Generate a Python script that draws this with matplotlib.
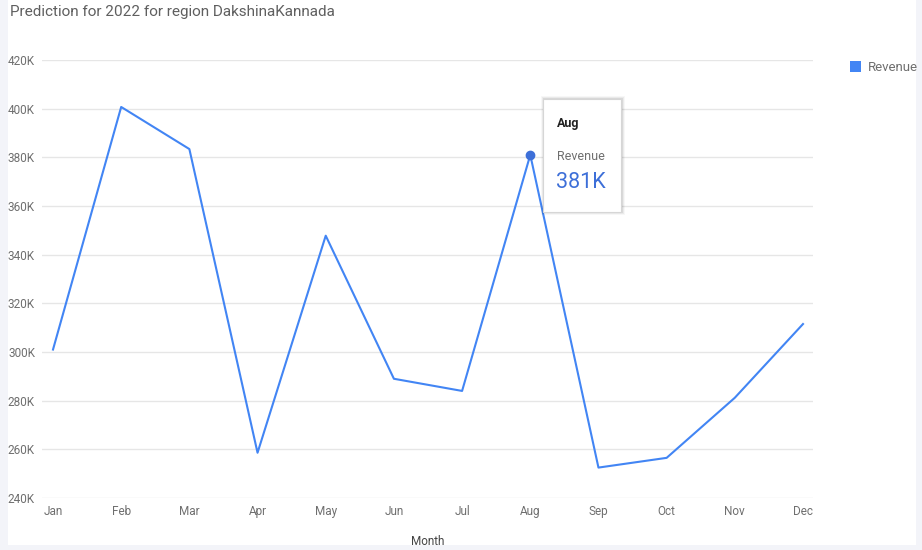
import matplotlib.pyplot as plt
from matplotlib.patches import Rectangle
from matplotlib.ticker import FuncFormatter

plt.rcParams['font.family'] = ['Roboto', 'DejaVu Sans']

months = ["Jan", "Feb", "Mar", "Apr", "May", "Jun",
          "Jul", "Aug", "Sep", "Oct", "Nov", "Dec"]
revenue = [301000, 400700, 383400, 258600, 347800, 289000,
           284000, 381000, 252500, 256500, 281200, 311500]
yticks = [240000, 260000, 280000, 300000, 320000, 340000,
          360000, 380000, 400000, 420000]
hover_month = "Aug"

line_color = "#4285f4"
text_color = "#6f6f6f"

fig = plt.figure(figsize=(9.22, 5.50), dpi=100, facecolor="#f3f4f9")
# white card behind everything
fig.patches.append(Rectangle((8 / 922, 5 / 550), 908 / 922, 545 / 550,
                             transform=fig.transFigure, facecolor="white",
                             edgecolor="none", zorder=-10))

ax = fig.add_axes([42 / 922, 1 - 498 / 550, 771 / 922, 438 / 550])
ax.set_facecolor("none")
x = list(range(len(months)))
ax.plot(x, revenue, color=line_color, linewidth=1.5, zorder=3)

hi = months.index(hover_month)
ax.plot(x[hi], revenue[hi], "o", color="#3d6fd8", markersize=6, zorder=4)

ax.set_xlim(-11 / 68.18, 11 + 10 / 68.18)
ax.set_ylim(240000, 420000)
ax.set_yticks(yticks)
ax.yaxis.set_major_formatter(FuncFormatter(lambda v, p: f"{int(v / 1000)}K"))
ax.set_xticks(x)
ax.set_xticklabels(months)
ax.tick_params(axis="both", length=0, labelsize=8.5, colors=text_color)
ax.tick_params(axis="y", pad=5)
ax.tick_params(axis="x", pad=5)
ax.grid(axis="y", color="#e6e6e6", linewidth=1)
ax.set_axisbelow(True)
for s in ax.spines.values():
    s.set_visible(False)
ax.set_xlabel("Month", fontsize=8.5, color="#444444", labelpad=12)

fig.text(10 / 922, 1 - 12 / 550, "Prediction for 2022 for region DakshinaKannada",
         fontsize=11, color="#5f5f5f", va="center", ha="left")

# legend
fig.patches.append(Rectangle((850 / 922, 1 - 72 / 550), 11 / 922, 11 / 550,
                             transform=fig.transFigure, facecolor=line_color,
                             edgecolor="none"))
fig.text(868 / 922, 1 - 67.5 / 550, "Revenue", fontsize=9.5, color=text_color,
         va="center", ha="left")

# tooltip with a soft shadow
for off, a in [(3, 0.03), (2, 0.05), (1, 0.07)]:
    fig.patches.append(Rectangle(((543 - off + 1) / 922, 1 - (212 + off) / 550),
                                 (78 + 2 * off) / 922, (113 + 2 * off) / 550,
                                 transform=fig.transFigure, facecolor="black",
                                 alpha=a, edgecolor="none", zorder=5))
fig.patches.append(Rectangle((543 / 922, 1 - 212 / 550), 78 / 922, 113 / 550,
                             transform=fig.transFigure, facecolor="white",
                             edgecolor="#d6d6d6", linewidth=0.8, zorder=6))
fig.text(557 / 922, 1 - 124 / 550, hover_month, fontsize=9, weight="bold",
         color="#222222", va="center", zorder=7)
fig.text(557 / 922, 1 - 157 / 550, "Revenue", fontsize=9, color=text_color,
         va="center", zorder=7)
fig.text(556 / 922, 1 - 182 / 550, f"{round(revenue[hi] / 1000)}K", fontsize=15.5,
         color="#3d6fd8", va="center", zorder=7)

fig.savefig("out.png", dpi=100, facecolor=fig.get_facecolor())
